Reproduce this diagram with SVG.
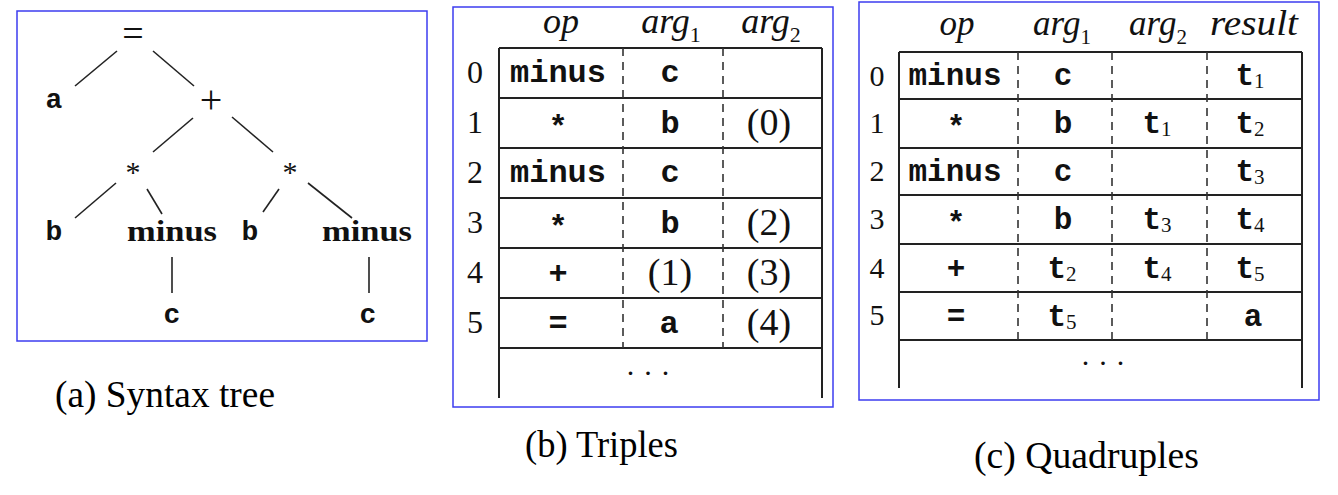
<svg xmlns="http://www.w3.org/2000/svg" width="1338" height="495" viewBox="0 0 1338 495">
<style>
.frame{fill:none;stroke:#3c3cf0;stroke-width:1.5}
.edge{stroke:#222;stroke-width:1.6;fill:none}
.rule{stroke:#222;stroke-width:2;fill:none}
.dash{stroke:#333;stroke-width:1.6;stroke-dasharray:8 6;fill:none}
.ser{font-family:"Liberation Serif","Times New Roman",serif;fill:#111}
.mono{font-family:"Liberation Mono","Courier New",monospace;font-weight:bold;fill:#111}
.tmono{font-family:"Liberation Mono","Courier New",monospace;font-weight:bold;fill:#111;font-size:28px}
.it{font-family:"Liberation Serif","Times New Roman",serif;font-style:italic;fill:#111}
.cap{font-family:"Liberation Serif","Times New Roman",serif;font-size:37px;fill:#000}
.mid{text-anchor:middle}
</style>
<rect width="1338" height="495" fill="#fff"/>

<!-- (a) Syntax tree -->
<rect class="frame" x="17" y="11" width="410" height="330"/>
<g id="tree-connectors">
<line class="edge" x1="117" y1="51" x2="75" y2="86"/>
<line class="edge" x1="153" y1="51" x2="194" y2="86"/>
<line class="edge" x1="193" y1="118" x2="153" y2="152"/>
<line class="edge" x1="232" y1="117" x2="273" y2="152"/>
<line class="edge" x1="116" y1="183" x2="75" y2="218"/>
<line class="edge" x1="147" y1="189" x2="162" y2="214"/>
<line class="edge" x1="279" y1="189" x2="263" y2="212"/>
<line class="edge" x1="308" y1="183" x2="352" y2="218"/>
<line class="edge" x1="172" y1="257" x2="172" y2="293"/>
<line class="edge" x1="369" y1="257" x2="369" y2="293"/>
</g>
<g id="node-eq"><text class="ser mid" x="133" y="46" font-size="38">=</text></g>
<g id="node-a"><text class="tmono mid" x="54" y="108">a</text></g>
<g id="node-plus"><text class="ser mid" x="211" y="113" font-size="40">+</text></g>
<g id="node-mul1"><text class="ser mid" x="133" y="182" font-size="30">*</text></g>
<g id="node-mul2"><text class="ser mid" x="290" y="182" font-size="30">*</text></g>
<g id="node-b1"><text class="tmono mid" x="54" y="240">b</text></g>
<g id="node-minus1"><text class="ser mid" x="172" y="241" font-size="30" font-weight="bold" textLength="90" lengthAdjust="spacingAndGlyphs">minus</text></g>
<g id="node-b2"><text class="tmono mid" x="250" y="240">b</text></g>
<g id="node-minus2"><text class="ser mid" x="367" y="241" font-size="30" font-weight="bold" textLength="90" lengthAdjust="spacingAndGlyphs">minus</text></g>
<g id="node-c1"><text class="tmono mid" x="172" y="323">c</text></g>
<g id="node-c2"><text class="tmono mid" x="368" y="323">c</text></g>
<text class="cap" x="55" y="407" textLength="220" lengthAdjust="spacingAndGlyphs">(a) Syntax tree</text>

<!-- (b) Triples -->
<g id="triples">
<rect class="frame" x="453" y="7" width="380" height="400"/>
<text class="it mid" x="561" y="33" font-size="36">op</text>
<text class="it mid" x="671" y="33" font-size="36">arg<tspan class="ser" font-style="normal" font-size="22" dy="9">1</tspan></text>
<text class="it mid" x="771" y="33" font-size="36">arg<tspan class="ser" font-style="normal" font-size="22" dy="9">2</tspan></text>
<path class="rule" d="M499,48H822M499,98H822M499,148H822M499,198H822M499,248H822M499,298H822M499,348H822M499,48V398M822,48V398"/>
<path class="dash" d="M623,48V348M723,48V348"/>
<g class="ser mid" font-size="32">
<text x="475" y="83">0</text><text x="475" y="133">1</text><text x="475" y="183">2</text><text x="475" y="233">3</text><text x="475" y="283">4</text><text x="475" y="333">5</text>
</g>
<g class="mono mid" font-size="32">
<text x="558" y="82">minus</text><text x="670" y="82">c</text>
<text x="558" y="137">*</text><text x="670" y="133">b</text>
<text x="558" y="182">minus</text><text x="670" y="182">c</text>
<text x="558" y="237">*</text><text x="670" y="233">b</text>
<text x="558" y="283">+</text>
<text x="558" y="333">=</text><text x="669" y="333">a</text>
</g>
<g class="ser mid" font-size="38">
<text x="769" y="135">(0)</text>
<text x="769" y="235">(2)</text>
<text x="670" y="285">(1)</text><text x="769" y="285">(3)</text>
<text x="769" y="335">(4)</text>
</g>
<text class="ser mid" x="653" y="375" font-size="30" letter-spacing="10">...</text>
</g>
<text class="cap" x="525" y="457" textLength="153" lengthAdjust="spacingAndGlyphs">(b) Triples</text>

<!-- (c) Quadruples -->
<g id="quadruples">
<rect class="frame" x="859" y="2" width="460" height="398"/>
<text class="it mid" x="957" y="35" font-size="35">op</text>
<text class="it mid" x="1062" y="35" font-size="35">arg<tspan class="ser" font-style="normal" font-size="21" dy="9">1</tspan></text>
<text class="it mid" x="1158" y="35" font-size="35">arg<tspan class="ser" font-style="normal" font-size="21" dy="9">2</tspan></text>
<text class="it" x="1210" y="35" font-size="36" textLength="88" lengthAdjust="spacingAndGlyphs">result</text>
<path class="rule" d="M899,52H1302M899,99H1302M899,148H1302M899,195H1302M899,244H1302M899,292H1302M899,340H1302M899,52V388M1302,52V388"/>
<path class="dash" d="M1018,52V340M1112,52V340M1207,52V340"/>
<g class="ser mid" font-size="30">
<text x="877" y="86">0</text><text x="877" y="133">1</text><text x="877" y="181">2</text><text x="877" y="229">3</text><text x="877" y="278">4</text><text x="877" y="325">5</text>
</g>
<g class="mono mid" font-size="31">
<text x="955" y="85">minus</text><text x="1063" y="85">c</text>
<text x="956" y="137">*</text><text x="1063" y="133">b</text>
<text x="955" y="181">minus</text><text x="1063" y="181">c</text>
<text x="956" y="233">*</text><text x="1063" y="229">b</text>
<text x="956" y="278">+</text>
<text x="956" y="326">=</text><text x="1253" y="326">a</text>
</g>
<g class="mid" font-size="31">
<text class="mono" x="1250" y="85">t<tspan class="ser" font-weight="normal" font-size="21" dy="3">1</tspan></text>
<text class="mono" x="1157" y="133">t<tspan class="ser" font-weight="normal" font-size="21" dy="3">1</tspan></text>
<text class="mono" x="1250" y="133">t<tspan class="ser" font-weight="normal" font-size="21" dy="3">2</tspan></text>
<text class="mono" x="1250" y="181">t<tspan class="ser" font-weight="normal" font-size="21" dy="3">3</tspan></text>
<text class="mono" x="1157" y="229">t<tspan class="ser" font-weight="normal" font-size="21" dy="3">3</tspan></text>
<text class="mono" x="1250" y="229">t<tspan class="ser" font-weight="normal" font-size="21" dy="3">4</tspan></text>
<text class="mono" x="1062" y="278">t<tspan class="ser" font-weight="normal" font-size="21" dy="3">2</tspan></text>
<text class="mono" x="1157" y="278">t<tspan class="ser" font-weight="normal" font-size="21" dy="3">4</tspan></text>
<text class="mono" x="1250" y="278">t<tspan class="ser" font-weight="normal" font-size="21" dy="3">5</tspan></text>
<text class="mono" x="1062" y="326">t<tspan class="ser" font-weight="normal" font-size="21" dy="3">5</tspan></text>
</g>
<text class="ser mid" x="1108" y="365" font-size="30" letter-spacing="10">...</text>
</g>
<text class="cap" x="974" y="468" textLength="225" lengthAdjust="spacingAndGlyphs">(c) Quadruples</text>
</svg>
